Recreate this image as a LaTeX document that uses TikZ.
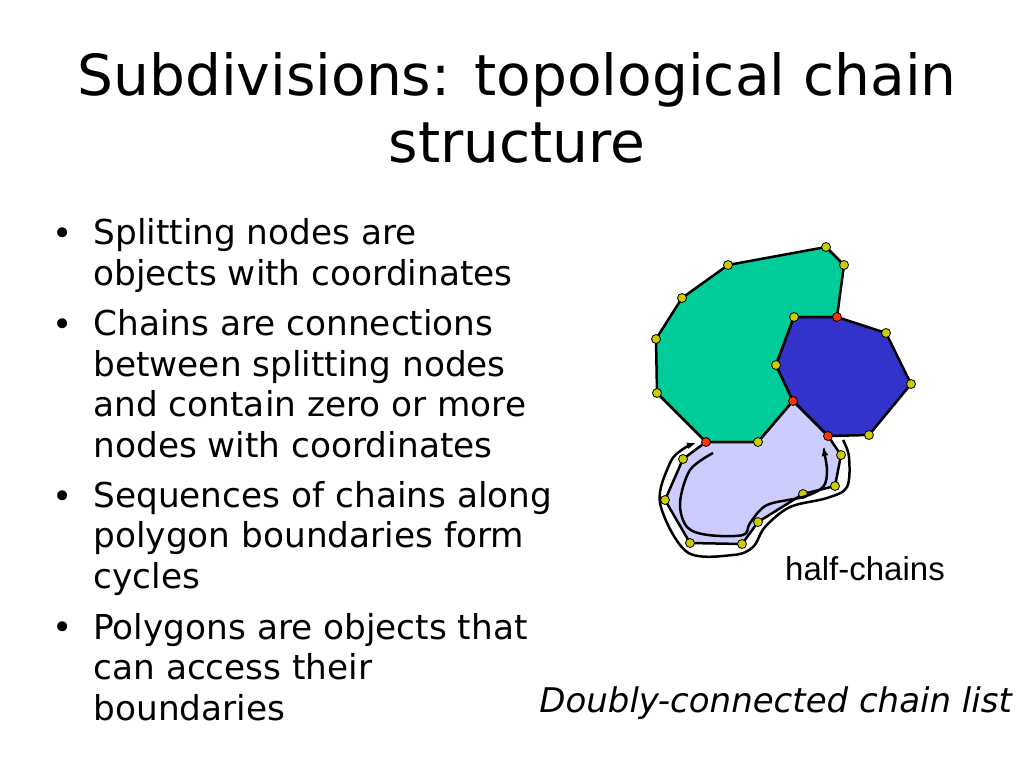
\documentclass[tikz,border=0pt]{standalone}
\usepackage{fontspec}
\setmainfont{DejaVu Sans}
\newfontfamily\arialfont{Liberation Sans}
\usepackage{tikz}
\usetikzlibrary{backgrounds,arrows,arrows.meta,positioning,calc}
\pgfdeclarelayer{background}
\pgfdeclarelayer{foreground}
\pgfsetlayers{background,main,foreground}

\definecolor{regiongreen}{RGB}{0,204,153}
\definecolor{regionblue}{RGB}{51,51,204}
\definecolor{regionlight}{RGB}{204,204,255}
\definecolor{nodeyellow}{RGB}{204,204,0}
\definecolor{nodered}{RGB}{255,51,0}

\begin{document}
\begin{tikzpicture}[
    x=1pt, y=-1pt,
    titlenode/.style={anchor=base, inner sep=0pt, font=\fontsize{56.6}{67}\selectfont},
    bulletnode/.style={anchor=base west, inner sep=0pt, align=left, font=\fontsize{34.3}{40.5}\selectfont},
    marknode/.style={anchor=base, inner sep=0pt, font=\fontsize{34.3}{40.5}\selectfont},
    chainnode/.style={circle, draw=black, line width=0.8pt, fill=nodeyellow, inner sep=0pt, minimum size=9pt},
    splitnode/.style={chainnode, fill=nodered},
    region/.style={draw=black, line width=2.5pt, line join=miter},
    halfchain/.style={line width=2.5pt, -{Latex[length=9pt,width=7pt]}},
    line width=1pt, black
    ]
    \useasboundingbox (0,0) rectangle (1024,768);

    %Title
    \node[titlenode] (title1) at (517,95)  {Subdivisions: topological chain};
    \node[titlenode] (title2) at (517,162) {structure};

    %Bullets (base = last line)
    \node[bulletnode] (item1) at (93,285) {Splitting nodes are\\objects with coordinates};
    \node[bulletnode] (item2) at (93,457) {Chains are connections\\between splitting nodes\\and contain zero or more\\nodes with coordinates};
    \node[bulletnode] (item3) at (93,588) {Sequences of chains along\\polygon boundaries form\\cycles};
    \node[bulletnode] (item4) at (93,720) {Polygons are objects that\\can access their\\boundaries};
    \node[marknode] (mark1) at (63,245) {\textbullet};
    \node[marknode] (mark2) at (63,336) {\textbullet};
    \node[marknode] (mark3) at (63,508) {\textbullet};
    \node[marknode] (mark4) at (63,639) {\textbullet};

    %Splitting nodes
    \node[splitnode] (sA) at (706,442) {};
    \node[splitnode] (sB) at (793,401) {};
    \node[splitnode] (sC) at (837,317) {};
    \node[splitnode] (sD) at (828,436) {};

    %Chain nodes
    \node[chainnode] (g1) at (758,442) {};
    \node[chainnode] (g2) at (776,365) {};
    \node[chainnode] (g3) at (794,317) {};
    \node[chainnode] (g4) at (844,265) {};
    \node[chainnode] (g5) at (826,247) {};
    \node[chainnode] (g6) at (728,265) {};
    \node[chainnode] (g7) at (682,298) {};
    \node[chainnode] (g8) at (656,339) {};
    \node[chainnode] (g9) at (657,393) {};
    \node[chainnode] (b1) at (886,333) {};
    \node[chainnode] (b2) at (911,384) {};
    \node[chainnode] (b3) at (869,435) {};
    \node[chainnode] (l1) at (841,455) {};
    \node[chainnode] (l2) at (835,486) {};
    \node[chainnode] (l3) at (803,494) {};
    \node[chainnode] (l4) at (758,522) {};
    \node[chainnode] (l5) at (742,544) {};
    \node[chainnode] (l6) at (690,543) {};
    \node[chainnode] (l7) at (665,500) {};
    \node[chainnode] (l8) at (683,459) {};

    %Polygons
    \begin{pgfonlayer}{background}
        \draw[region, fill=regiongreen] (sA.center) -- (g1.center) -- (sB.center) -- (g2.center) -- (g3.center) -- (sC.center) -- (g4.center) -- (g5.center) -- (g6.center) -- (g7.center) -- (g8.center) -- (g9.center) -- cycle;
        \draw[region, fill=regionblue] (sC.center) -- (b1.center) -- (b2.center) -- (b3.center) -- (sD.center) -- (sB.center) -- (g2.center) -- (g3.center) -- cycle;
        \draw[region, fill=regionlight] (sA.center) -- (g1.center) -- (sB.center) -- (sD.center) -- (l1.center) -- (l2.center) -- (l3.center) -- (l4.center) -- (l5.center) -- (l6.center) -- (l7.center) -- (l8.center) -- cycle;
    \end{pgfonlayer}

    %Half-chains
    \coordinate (outerstart) at (843,440);
    \coordinate (outerend)   at (696,443);
    \coordinate (innerstart) at (713,453);
    \coordinate (innerend)   at (823,447);
    \draw[halfchain] plot[smooth, tension=0.55] coordinates {(outerstart) (849,457) (847,487) (827,498) (790,507) (765,527) (753,547) (733,555) (687,552) (660,503) (670,463) (683,449) (outerend)};
    \draw[halfchain] plot[smooth, tension=0.55] coordinates {(innerstart) (690,470) (680,503) (687,527) (708,535) (743,535) (750,523) (767,505) (803,497) (823,487) (827,470) (innerend)};

    %Labels
    \node[anchor=base west, inner sep=0pt, font=\arialfont\fontsize{33}{38}\selectfont] (halflabel) at (785,580) {half-chains};
    \node[anchor=base east, inner sep=0pt, font=\fontsize{34}{40}\selectfont\itshape] (caption) at (1012,712) {Doubly-connected chain list};
\end{tikzpicture}
\end{document}
